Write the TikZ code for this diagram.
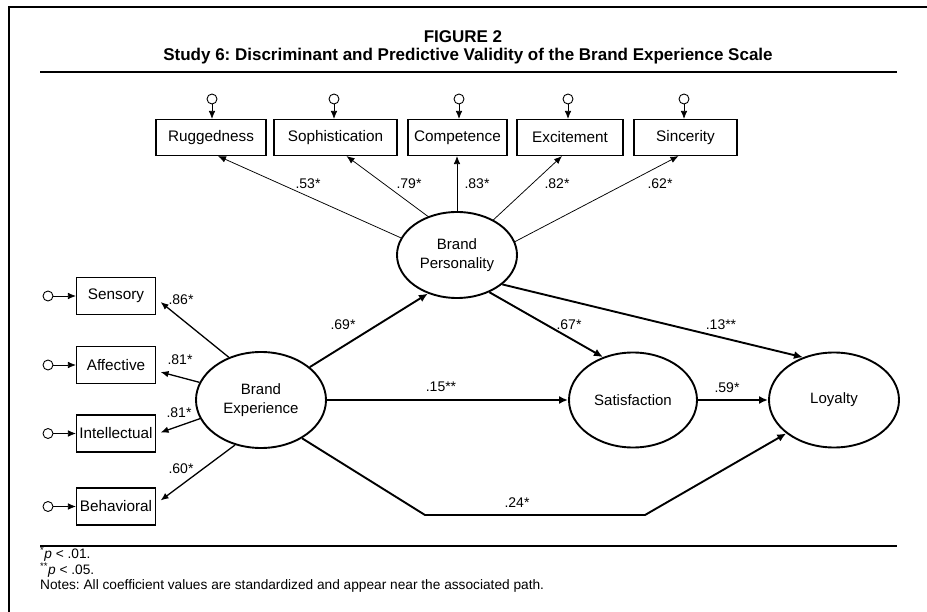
\documentclass[tikz,border=0pt]{standalone}
\usepackage{fontspec}
\setmainfont{Liberation Sans}
\usetikzlibrary{arrows.meta,shapes.geometric}
\frenchspacing
\begin{document}
\begin{tikzpicture}[x=1pt,y=-1pt,
  box/.style={draw, line width=1.1pt, minimum height=36pt, inner sep=0pt, font=\fontsize{15.3}{17}\selectfont},
  lbox/.style={box, minimum width=79pt, minimum height=37pt},
  lat/.style={draw, ellipse, line width=1.9pt, inner sep=0pt, align=center, font=\fontsize{15}{18.5}\selectfont},
  err/.style={draw, circle, minimum size=10pt, inner sep=0pt, line width=0.9pt},
  meas/.style={-{Latex[length=8pt,width=6.5pt]}, line width=0.75pt},
  lmeas/.style={-{Latex[length=8pt,width=6.5pt]}, line width=1.3pt},
  spath/.style={-{Latex[length=9pt,width=8pt]}, line width=1.9pt},
  coef/.style={font=\fontsize{14}{16}\selectfont, inner sep=1pt},
  note/.style={anchor=west, inner sep=0pt, font=\fontsize{13.7}{15}\selectfont},
  rulel/.style={line width=2pt}]
\useasboundingbox (0,0) rectangle (927,612);
% frame and rules
\coordinate (fa) at (9,612);
\coordinate (fb) at (9,7);
\coordinate (fc) at (927,7);
\draw[line width=2pt] (fa) -- (fb) -- (fc);
\coordinate (r1a) at (40,72);
\coordinate (r1b) at (897,72);
\coordinate (r2a) at (40,546);
\coordinate (r2b) at (897,546);
\draw[rulel] (r1a) -- (r1b);
\draw[rulel] (r2a) -- (r2b);
% title
\node[font=\bfseries\fontsize{17}{19}\selectfont] (t1) at (463,37) {FIGURE 2};
\node[font=\bfseries\fontsize{17}{19}\selectfont] (t2) at (468,56) {Study 6: Discriminant and Predictive Validity of the Brand Experience Scale};
% top indicator boxes
\node[box, minimum width=110pt] (rug) at (211,137.5) {Ruggedness};
\node[box, minimum width=123pt] (soph) at (335.5,137.5) {Sophistication};
\node[box, minimum width=99pt] (comp) at (457.5,137.5) {Competence};
\node[box, minimum width=106pt] (exc) at (570,137.5) {Excitement};
\node[box, minimum width=103pt] (sinc) at (685.5,137.5) {Sincerity};
\node[err] (e1) at (212,99) {};
\node[err] (e2) at (334,99) {};
\node[err] (e3) at (459,99) {};
\node[err] (e4) at (568,99) {};
\node[err] (e5) at (684,99) {};
\draw[meas] (e1) -- (e1 |- rug.north);
\draw[meas] (e2) -- (e2 |- soph.north);
\draw[meas] (e3) -- (e3 |- comp.north);
\draw[meas] (e4) -- (e4 |- exc.north);
\draw[meas] (e5) -- (e5 |- sinc.north);
% latent variables
\node[lat, minimum width=120pt, minimum height=86pt] (bp) at (457,255) {Brand\\Personality};
\node[lat, minimum width=130pt, minimum height=96pt] (be) at (261,400) {Brand\\Experience};
\node[lat, minimum width=128pt, minimum height=95pt] (sat) at (633,400) {Satisfaction};
\node[lat, minimum width=130pt, minimum height=95pt] (loy) at (834,400) {Loyalty};
% BP loadings
\draw[meas] (bp.163) -- ([xshift=7pt]rug.south);
\draw[meas] (bp.127) -- ([xshift=11pt]soph.south);
\draw[meas] (bp.north) -- (bp.north |- comp.south);
\draw[meas] (bp.44) -- ([xshift=-8pt]exc.south);
\draw[meas] (bp.13) -- ([xshift=-7pt]sinc.south);
\node[coef] (c1) at (308,184) {.53*};
\node[coef] (c2) at (409,184) {.79*};
\node[coef] (c3) at (477,184) {.83*};
\node[coef] (c4) at (557,184) {.82*};
\node[coef] (c5) at (660,184) {.62*};
% left indicator boxes
\node[lbox] (sen) at (116,296) {Sensory};
\node[lbox] (aff) at (116,365) {Affective};
\node[lbox] (int) at (116,433.5) {Intellectual};
\node[lbox] (beh) at (116,506.5) {Behavioral};
\node[err] (f1) at (48,296) {};
\node[err] (f2) at (48,365) {};
\node[err] (f3) at (48,433.5) {};
\node[err] (f4) at (48,506.5) {};
\draw[meas] (f1) -- (sen.west);
\draw[meas] (f2) -- (aff.west);
\draw[meas] (f3) -- (int.west);
\draw[meas] (f4) -- (beh.west);
\draw[lmeas] (be.127) -- ([shift={(4.5,6)}]sen.east);
\draw[lmeas] (be.164) -- ([shift={(4.5,7)}]aff.east);
\draw[lmeas] (be.197) -- ([shift={(4.5,-1)}]int.east);
\draw[lmeas] (be.240) -- ([shift={(4.5,-6)}]beh.east);
\node[coef] (d1) at (181,300) {.86*};
\node[coef] (d2) at (180,360) {.81*};
\node[coef] (d3) at (179,413) {.81*};
\node[coef] (d4) at (181,469) {.60*};
% structural paths
\draw[spath] (be.34) -- (bp.233);
\draw[spath] (be.east) -- (sat.west);
\draw[spath] (bp.311) -- (sat.125);
\draw[spath] (bp.327) -- (loy.126);
\draw[spath] (sat.east) -- (loy.west);
\coordinate (k1) at (425,515);
\coordinate (k2) at (645,515);
\draw[spath] (be.317) -- (k1) -- (k2) -- (loy.215);
\node[coef] (g1) at (343,325) {.69*};
\node[coef] (g2) at (441,387) {.15**};
\node[coef] (g3) at (569,325) {.67*};
\node[coef] (g4) at (721,325) {.13**};
\node[coef] (g5) at (727,388) {.59*};
\node[coef] (g6) at (517,503) {.24*};
% notes
\node[note] (n1) at (40,554) {\textsuperscript{*}\textit{p} < .01.};
\node[note] (n2) at (40,570) {\textsuperscript{**}\textit{p} < .05.};
\node[note] (n3) at (40,586) {Notes: All coefficient values are standardized and appear near the associated path.};
\end{tikzpicture}
\end{document}
